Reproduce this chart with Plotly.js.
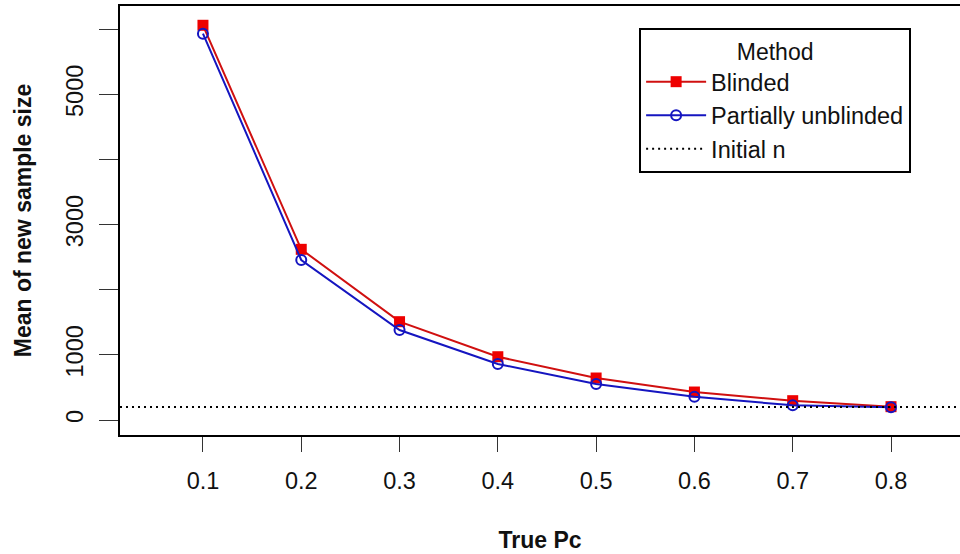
<!DOCTYPE html>
<html>
<head>
<meta charset="utf-8">
<script src="https://cdn.plot.ly/plotly-3.0.1.min.js"></script>
<style>html,body{margin:0;padding:0;background:#fff;}#chart{width:960px;height:554px;}</style>
</head>
<body>
<div id="chart"></div>
<script>
// Data
const truePc = [0.1, 0.2, 0.3, 0.4, 0.5, 0.6, 0.7, 0.8];
const xTickLabels = ['0.1', '0.2', '0.3', '0.4', '0.5', '0.6', '0.7', '0.8'];
const blinded = [6061, 2621, 1510, 972, 645, 430, 297, 205];
const partiallyUnblinded = [5932, 2457, 1382, 860, 553, 358, 225, 195];
const initialN = 200;
const yTickVals = [0, 1000, 2000, 3000, 4000, 5000, 6000];
const yTickText = ['0', '1000', '', '3000', '', '5000', ''];

const xRange = [0.0156, 0.8702];
const yRange = [-230, 6357];
const font = 'Liberation Sans, Arial, sans-serif';

const traces = [
  {
    x: truePc, y: blinded, name: 'Blinded', type: 'scatter', mode: 'lines+markers',
    line: {color: '#d01010', width: 2},
    marker: {symbol: 'square', size: 11, color: '#ee0000', line: {width: 0}}
  },
  {
    x: truePc, y: partiallyUnblinded, name: 'Partially unblinded', type: 'scatter', mode: 'lines+markers',
    line: {color: '#1515c0', width: 2},
    marker: {symbol: 'circle-open', size: 10, color: '#1515c0', line: {width: 2, color: '#1515c0'}}
  },
  {
    x: xRange, y: [initialN, initialN], name: 'Initial n', type: 'scatter', mode: 'lines',
    line: {color: '#000', width: 2, dash: '2px,4px'}
  }
];

const layout = {
  width: 960, height: 554,
  margin: {l: 120, r: 0, t: 6, b: 119},
  paper_bgcolor: '#fff', plot_bgcolor: '#fff',
  font: {family: font, size: 22, color: '#111'},
  showlegend: true,
  legend: {
    x: 0.618, y: 0.9487, xanchor: 'left', yanchor: 'top',
    bordercolor: '#000', borderwidth: 2, bgcolor: '#fff',
    font: {family: font, size: 23.5, color: '#111'},
    title: {text: 'Method', side: 'top center', font: {family: font, size: 23, color: '#111'}},
    itemwidth: 60, tracegroupgap: 0
  },
  xaxis: {
    range: xRange, tickmode: 'array', tickvals: truePc, ticktext: xTickLabels,
    showgrid: false, zeroline: false, showline: true, mirror: true, linecolor: '#000', linewidth: 2,
    ticks: 'outside', ticklen: 15, tickwidth: 1, tickcolor: '#333', ticklabelstandoff: 9,
    tickfont: {family: font, size: 23.5, color: '#111'},
    title: {text: '<b>True Pc</b>', font: {family: font, size: 23, color: '#111'}, standoff: 39}
  },
  yaxis: {
    range: yRange, tickmode: 'array', tickvals: yTickVals, ticktext: yTickText,
    showgrid: false, zeroline: false, showline: true, mirror: false, linecolor: '#000', linewidth: 2,
    ticks: 'outside', ticklen: 19, tickwidth: 1, tickcolor: '#333', tickangle: -90, ticklabelstandoff: 7,
    tickfont: {family: font, size: 23.5, color: '#111'},
    title: {text: '<b>Mean of new sample size</b>', font: {family: font, size: 23, color: '#111'}, standoff: 24}
  }
};

Plotly.newPlot('chart', traces, layout, {displayModeBar: false, staticPlot: true});
</script>
</body>
</html>
